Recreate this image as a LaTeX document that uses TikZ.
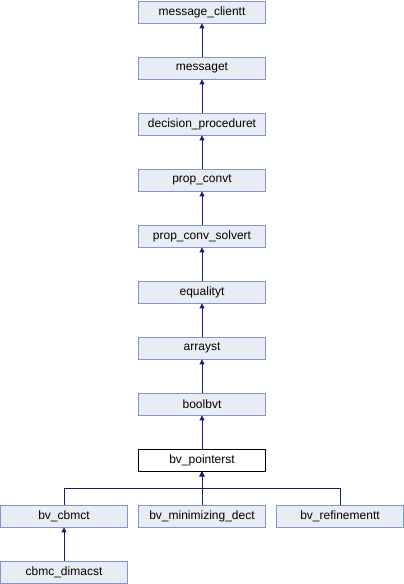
\documentclass[tikz,border=0pt]{standalone}
\usepackage{fontspec}
\setmainfont{Liberation Sans}
\usetikzlibrary{arrows.meta}
\definecolor{nodefill}{HTML}{E8ECF5}
\definecolor{nodeedge}{HTML}{7F98CC}
\definecolor{edgecol}{HTML}{191970}
\begin{document}
\begin{tikzpicture}[x=1pt,y=-1pt,
  cls/.style={draw=nodeedge,fill=nodefill,line width=0.8pt,minimum width=127pt,minimum height=22pt,inner sep=0pt,font=\fontsize{12}{14}\selectfont},
  cur/.style={cls,draw=black,fill=white},
  inh/.style={draw=edgecol,line width=0.9pt,-{Triangle[length=5pt,width=5pt]}}]
\useasboundingbox (0,0) rectangle (404,584);
\node[cls] (a) at (202,12) {message\_clientt};
\node[cls] (b) at (202,68) {messaget};
\node[cls] (c) at (202,124) {decision\_proceduret};
\node[cls] (d) at (202,180) {prop\_convt};
\node[cls] (e) at (202,236) {prop\_conv\_solvert};
\node[cls] (f) at (202,292) {equalityt};
\node[cls] (g) at (202,348) {arrayst};
\node[cls] (h) at (202,404) {boolbvt};
\node[cur] (i) at (202,460) {bv\_pointerst};
\node[cls] (j) at (64,516) {bv\_cbmct};
\node[cls] (k) at (202,516) {bv\_minimizing\_dect};
\node[cls] (l) at (340,516) {bv\_refinementt};
\node[cls] (m) at (64,572) {cbmc\_dimacst};
\draw[inh] (b) -- (a);
\draw[inh] (c) -- (b);
\draw[inh] (d) -- (c);
\draw[inh] (e) -- (d);
\draw[inh] (f) -- (e);
\draw[inh] (g) -- (f);
\draw[inh] (h) -- (g);
\draw[inh] (i) -- (h);
\draw[inh] (k) -- (i);
\draw[inh] (j.north) -- ++(0,-16) -| (i.south);
\draw[inh] (l.north) -- ++(0,-16) -| (i.south);
\draw[inh] (m) -- (j);
\end{tikzpicture}
\end{document}
